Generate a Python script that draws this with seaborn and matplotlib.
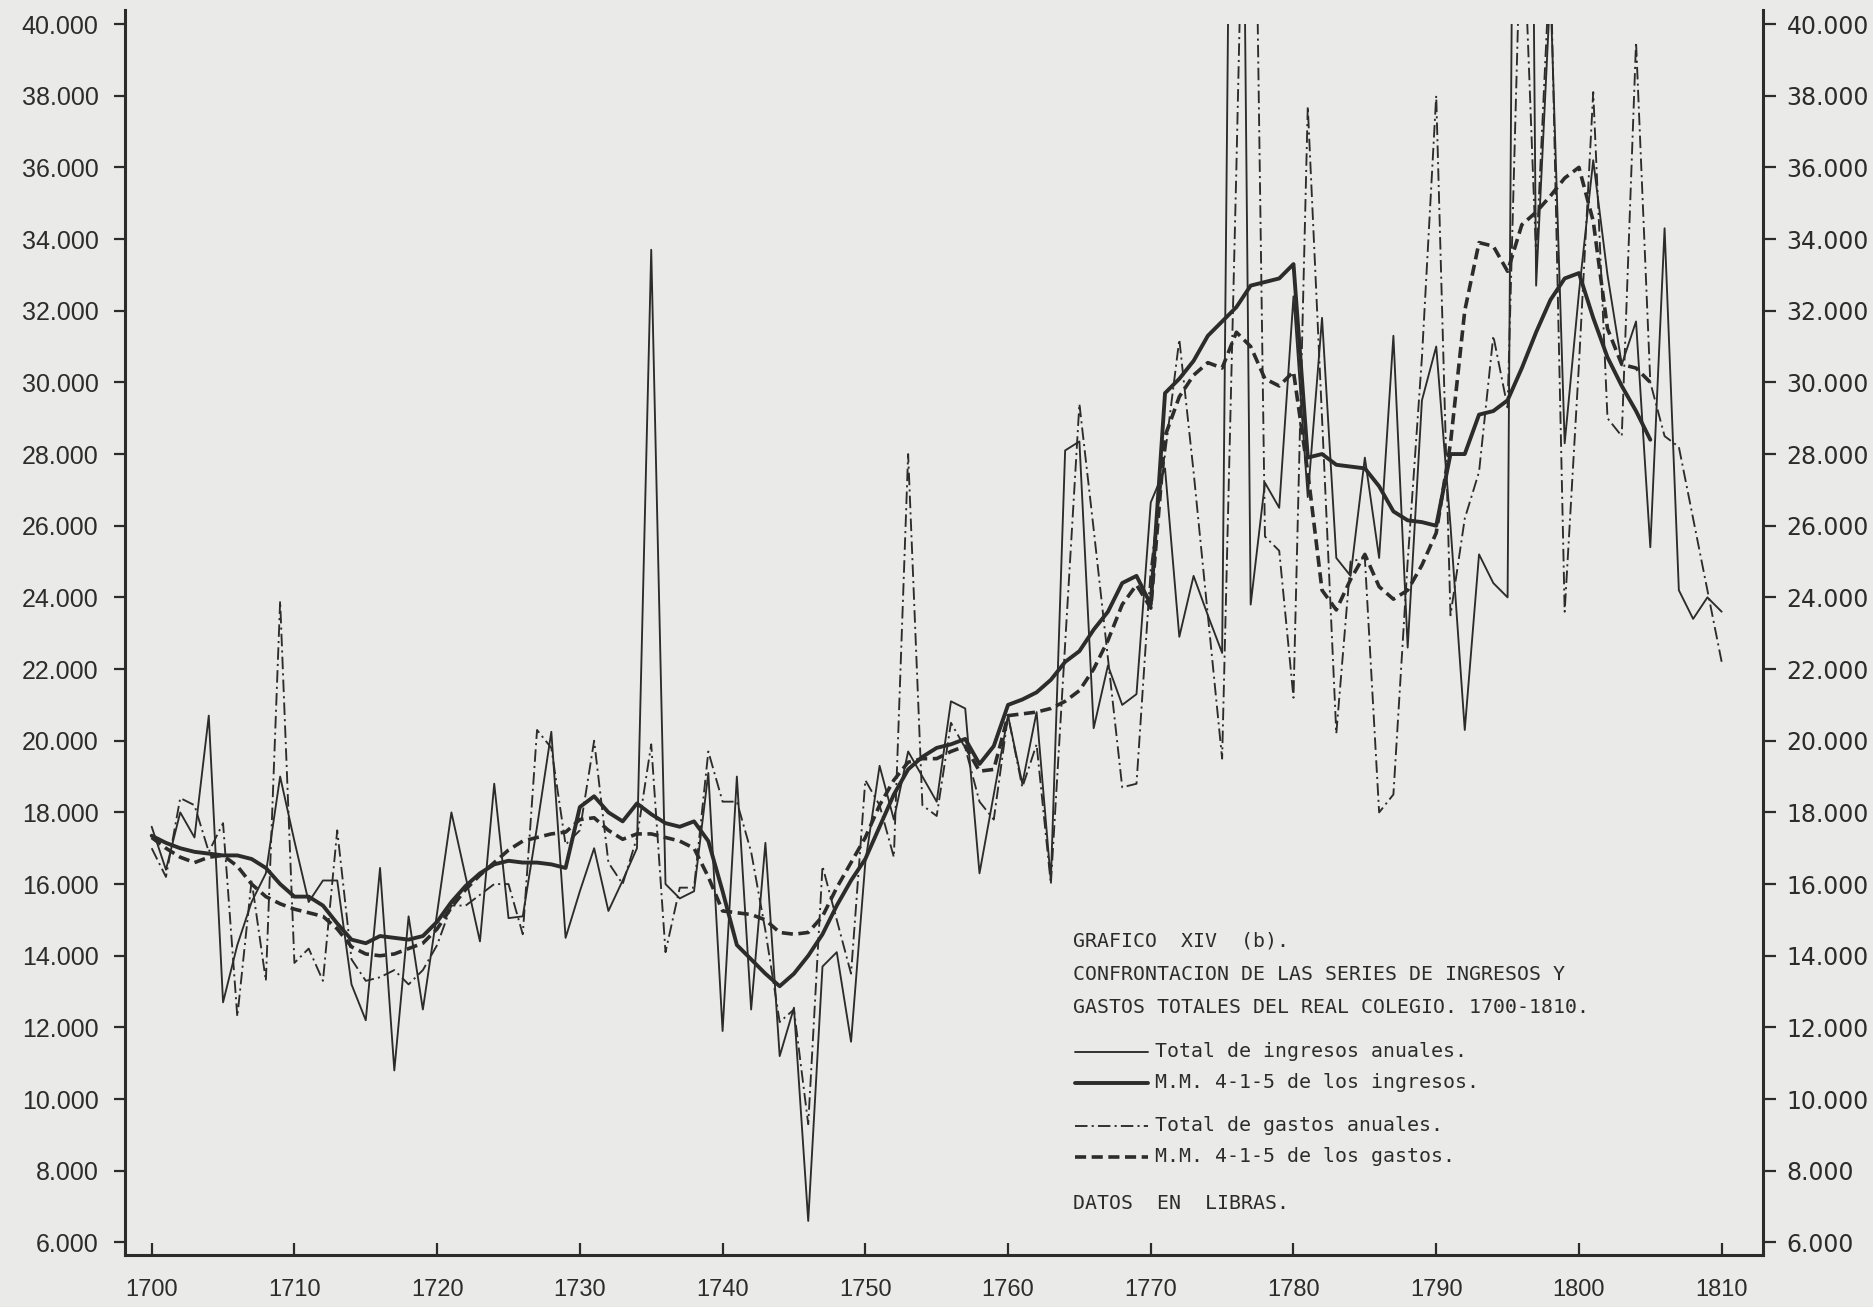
import numpy as np
import pandas as pd
import matplotlib
matplotlib.use("Agg")
import matplotlib.pyplot as plt
from matplotlib.lines import Line2D
from matplotlib.patches import Rectangle
import seaborn as sns

# ---------------------------------------------------------------- data (miles de libras)
anios = list(range(1700, 1811))

ingresos = [
    17.6, 16.4, 18.0, 17.3, 20.7, 12.7, 14.3, 15.5, 16.3, 19.0,      # 1700-1709
    17.2, 15.5, 16.1, 16.1, 13.2, 12.2, 16.45, 10.8, 15.1, 12.5,     # 1710-1719
    15.2, 18.0, 16.2, 14.4, 18.8, 15.05, 15.1, 17.6, 20.25, 14.5,    # 1720-1729
    15.8, 17.0, 15.25, 16.1, 17.0, 33.7, 16.0, 15.6, 15.8, 19.1,     # 1730-1739
    11.9, 19.0, 12.5, 17.15, 11.2, 12.55, 6.6, 13.7, 14.1, 11.6,     # 1740-1749
    16.6, 19.3, 17.8, 19.7, 19.0, 18.3, 21.1, 20.9, 16.3, 18.5,      # 1750-1759
    20.7, 18.8, 20.8, 16.1, 28.1, 28.35, 20.35, 22.1, 21.0, 21.3,    # 1760-1769
    26.65, 27.6, 22.9, 24.6, 23.5, 22.45, 65.0, 23.8, 27.2, 26.5,    # 1770-1779
    32.4, 26.8, 31.8, 25.1, 24.6, 27.9, 25.1, 31.3, 22.6, 29.5,      # 1780-1789
    31.0, 26.0, 20.3, 25.2, 24.4, 24.0, 80.0, 32.7, 41.0, 28.3,      # 1790-1799
    32.5, 36.2, 33.0, 30.5, 31.7, 25.4, 34.3, 24.2, 23.4, 24.0, 23.6,  # 1800-1810
]

gastos = [
    17.0, 16.2, 18.4, 18.2, 16.9, 17.7, 12.3, 16.1, 13.3, 23.9,      # 1700-1709
    13.8, 14.2, 13.3, 17.5, 13.9, 13.3, 13.4, 13.6, 13.2, 13.6,      # 1710-1719
    14.3, 15.4, 15.4, 15.7, 16.0, 16.0, 14.6, 20.3, 19.8, 17.1,      # 1720-1729
    17.5, 20.0, 16.6, 16.0, 17.3, 19.9, 14.1, 15.9, 15.9, 19.7,      # 1730-1739
    18.3, 18.3, 16.9, 14.7, 12.15, 12.5, 9.3, 16.5, 15.0, 13.5,      # 1740-1749
    18.9, 18.2, 16.75, 28.0, 18.2, 17.9, 20.5, 19.8, 18.3, 17.8,     # 1750-1759
    20.7, 18.7, 19.9, 16.0, 22.7, 29.4, 25.9, 22.3, 18.7, 18.8,      # 1760-1769
    24.8, 28.0, 31.2, 27.5, 23.5, 19.5, 36.0, 54.0, 25.7, 25.3,      # 1770-1779
    21.2, 37.7, 29.0, 20.2, 25.0, 25.1, 18.0, 18.5, 25.0, 30.7,      # 1780-1789
    38.0, 23.5, 26.2, 27.5, 31.3, 29.3, 44.0, 33.5, 42.0, 23.6,      # 1790-1799
    30.5, 38.1, 29.0, 28.5, 39.5, 30.0, 28.5, 28.2, 26.2, 24.2, 22.2,  # 1800-1810
]

anios_mm = list(range(1700, 1806))

mm_ingresos = [
    17.35, 17.15, 17.0, 16.9, 16.85, 16.8, 16.8, 16.7, 16.45, 16.0,  # 1700-1709
    15.65, 15.65, 15.4, 14.9, 14.45, 14.35, 14.55, 14.5, 14.45, 14.55,  # 1710-1719
    14.95, 15.5, 15.95, 16.3, 16.55, 16.65, 16.6, 16.6, 16.55, 16.45,  # 1720-1729
    18.15, 18.45, 18.0, 17.75, 18.25, 17.95, 17.7, 17.6, 17.75, 17.2,  # 1730-1739
    15.8, 14.3, 13.9, 13.5, 13.15, 13.5, 14.0, 14.6, 15.4, 16.1,     # 1740-1749
    16.7, 17.6, 18.5, 19.2, 19.55, 19.8, 19.9, 20.05, 19.35, 19.85,  # 1750-1759
    21.0, 21.15, 21.35, 21.7, 22.2, 22.5, 23.1, 23.6, 24.4, 24.6,    # 1760-1769
    23.8, 29.7, 30.1, 30.6, 31.3, 31.7, 32.1, 32.7, 32.8, 32.9,      # 1770-1779
    33.3, 27.9, 28.0, 27.7, 27.65, 27.6, 27.1, 26.4, 26.15, 26.1,    # 1780-1789
    26.0, 28.0, 28.0, 29.1, 29.2, 29.5, 30.4, 31.4, 32.3, 32.9,      # 1790-1799
    33.05, 31.8, 30.7, 29.9, 29.2, 28.4,                             # 1800-1805
]

mm_gastos = [
    17.3, 17.0, 16.75, 16.6, 16.75, 16.8, 16.5, 16.0, 15.65, 15.45,  # 1700-1709
    15.3, 15.2, 15.1, 14.75, 14.25, 14.05, 14.0, 14.05, 14.2, 14.35,  # 1710-1719
    14.75, 15.35, 15.85, 16.25, 16.6, 16.95, 17.2, 17.3, 17.4, 17.45,  # 1720-1729
    17.8, 17.85, 17.5, 17.25, 17.4, 17.4, 17.3, 17.2, 17.0, 16.2,    # 1730-1739
    15.25, 15.2, 15.15, 15.0, 14.65, 14.6, 14.65, 15.1, 15.9, 16.6,  # 1740-1749
    17.3, 18.2, 18.9, 19.4, 19.5, 19.5, 19.7, 19.85, 19.15, 19.2,    # 1750-1759
    20.7, 20.75, 20.8, 20.9, 21.1, 21.4, 22.0, 22.8, 23.8, 24.35,    # 1760-1769
    23.7, 28.5, 29.6, 30.2, 30.55, 30.4, 31.4, 31.0, 30.1, 29.9,     # 1770-1779
    30.3, 27.5, 24.2, 23.65, 24.5, 25.2, 24.3, 23.95, 24.2, 24.9,    # 1780-1789
    25.8, 28.3, 32.0, 33.9, 33.8, 33.1, 34.4, 34.75, 35.2, 35.7,     # 1790-1799
    36.0, 34.5, 31.5, 30.5, 30.4, 30.0,                              # 1800-1805
]

ticks_x = list(range(1700, 1811, 10))
ticks_y = list(range(6, 41, 2))
etiquetas_y = [f"{v}.000" for v in ticks_y]

titulo = ["GRAFICO  XIV  (b).",
          "CONFRONTACION DE LAS SERIES DE INGRESOS Y",
          "GASTOS TOTALES DEL REAL COLEGIO. 1700-1810."]
leyendas = ["Total de ingresos anuales.",
            "M.M. 4-1-5 de los ingresos.",
            "Total de gastos anuales.",
            "M.M. 4-1-5 de los gastos."]
nota = "DATOS  EN  LIBRAS."

# ---------------------------------------------------------------- style
sns.set_theme(style="ticks")
sans = ["Liberation Sans", "DejaVu Sans"]
mono = ["DejaVu Sans Mono", "Liberation Mono"]
plt.rcParams["font.family"] = sans
plt.rcParams["lines.scale_dashes"] = False

paper = "#eaeae8"
ink = "#2c2c2c"

estilos = {
    "ingresos": dict(color=ink, linewidth=1.35, linestyle="-"),
    "mm_ingresos": dict(color=ink, linewidth=2.8, linestyle="-"),
    "gastos": dict(color=ink, linewidth=1.35, linestyle=(0, (9, 3, 1.5, 3))),
    "mm_gastos": dict(color=ink, linewidth=2.6, linestyle=(0, (8, 4))),
}

fig = plt.figure(figsize=(18.74, 13.07), dpi=100, facecolor=paper)
ax = fig.add_axes([0.0667, 0.0398, 0.8741, 0.9528])
ax.set_facecolor(paper)

df = pd.DataFrame({"anio": anios, "ingresos": ingresos, "gastos": gastos})
dm = pd.DataFrame({"anio": anios_mm, "mm_ingresos": mm_ingresos, "mm_gastos": mm_gastos})

sns.lineplot(data=df, x="anio", y="gastos", ax=ax, **estilos["gastos"])
sns.lineplot(data=df, x="anio", y="ingresos", ax=ax, **estilos["ingresos"])
sns.lineplot(data=dm, x="anio", y="mm_gastos", ax=ax, **estilos["mm_gastos"])
sns.lineplot(data=dm, x="anio", y="mm_ingresos", ax=ax, **estilos["mm_ingresos"])

# the plotted series stop at the 40.000 line
ax.set_xlim(1698.13, 1812.9)
ax.set_ylim(5.65, 40.4)
techo = Rectangle((1690, 0), 140, 40, transform=ax.transData)
for ln in ax.lines:
    ln.set_clip_path(techo)

ax.set_xlabel("")
ax.set_ylabel("")
ax.grid(False)

ax.set_xticks(ticks_x)
ax.set_xticklabels([str(t) for t in ticks_x])
ax.tick_params(axis="x", direction="in", length=9, width=1.6, pad=17,
               labelsize=17, colors=ink)
ax.set_yticks(ticks_y)
ax.set_yticklabels(etiquetas_y)
ax.tick_params(axis="y", direction="out", length=8, width=1.6, pad=11,
               labelsize=18, colors=ink)
for lado in ("top", "right"):
    ax.spines[lado].set_visible(False)
for lado in ("left", "bottom"):
    ax.spines[lado].set_linewidth(2.2)
    ax.spines[lado].set_color(ink)

ax2 = ax.twinx()
ax2.set_ylim(ax.get_ylim())
ax2.set_yticks(ticks_y)
ax2.set_yticklabels(etiquetas_y, fontfamily="DejaVu Sans")
ax2.tick_params(axis="y", direction="out", length=9, width=1.6, pad=8,
                labelsize=17, colors=ink)
for lado in ("top", "left", "bottom"):
    ax2.spines[lado].set_visible(False)
ax2.spines["right"].set_linewidth(2.2)
ax2.spines["right"].set_color(ink)

# ---------------------------------------------------------------- caption and key
W, H = 1874.0, 1307.0
fx = lambda px: px / W
fy = lambda py: 1 - py / H
tam = 14.3

for texto, py in zip(titulo, (940.6, 974.0, 1007.5)):
    fig.text(fx(1073), fy(py), texto, fontsize=tam, color=ink, va="center",
             ha="left", family=mono)

claves = ["ingresos", "mm_ingresos", "gastos", "mm_gastos"]
filas = (1051.7, 1082.8, 1125.8, 1156.8)
for clave, texto, py in zip(claves, leyendas, filas):
    fig.add_artist(Line2D([fx(1075), fx(1148)], [fy(py), fy(py)],
                          transform=fig.transFigure, **estilos[clave]))
    fig.text(fx(1155), fy(py), texto, fontsize=tam, color=ink, va="center",
             ha="left", family=mono)

fig.text(fx(1073), fy(1203.5), nota, fontsize=tam, color=ink, va="center",
         ha="left", family=mono)

fig.savefig("out.png", dpi=100, facecolor=paper)
